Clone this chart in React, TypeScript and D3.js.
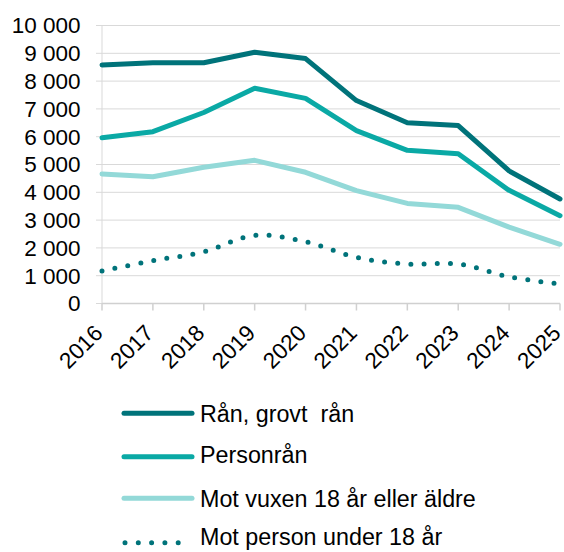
import React from 'react'
import * as d3 from 'd3'

const years = ['2016', '2017', '2018', '2019', '2020', '2021', '2022', '2023', '2024', '2025']
const ranGrovtRan = [8580, 8660, 8660, 9040, 8810, 7300, 6500, 6400, 4770, 3760]
const personran = [5960, 6180, 6870, 7740, 7380, 6220, 5510, 5390, 4070, 3160]
const motVuxen = [4660, 4560, 4900, 5150, 4720, 4060, 3600, 3460, 2750, 2130]
const motUnder18 = [1170, 1540, 1860, 2450, 2220, 1660, 1420, 1420, 960, 700]
const yTicks = [0, 1000, 2000, 3000, 4000, 5000, 6000, 7000, 8000, 9000, 10000]

const series = [
  { name: 'Rån, grovt  rån', values: ranGrovtRan, color: '#00737a', dotted: false },
  { name: 'Personrån', values: personran, color: '#0aa9a5', dotted: false },
  { name: 'Mot vuxen 18 år eller äldre', values: motVuxen, color: '#93d9d8', dotted: false },
  { name: 'Mot person under 18 år', values: motUnder18, color: '#00737a', dotted: true }
]

const W = 564
const H = 552
const left = 102
const right = 560
const top = 25.5
const bottom = 303.5
const font = 'Arial, "Liberation Sans", sans-serif'

// legend rows: symbol line y and text baseline
const legendLineY = [413.3, 456.7, 498.3, 542.7]
const legendTextY = [421.7, 463.3, 506.7, 544.5]

export default function App() {
  const x = d3.scalePoint<string>().domain(years).range([left, right])
  const y = d3.scaleLinear().domain([0, 10000]).range([bottom, top])
  const fmt = (v: number) => d3.format(',')(v).replace(/,/g, ' ')

  const straight = d3
    .line<number>()
    .x((_, i) => x(years[i]) as number)
    .y(d => y(d))
  const smooth = d3
    .line<number>()
    .x((_, i) => x(years[i]) as number)
    .y(d => y(d))
    .curve(d3.curveCatmullRom.alpha(0.5))

  return (
    <svg
      width={W}
      height={H}
      style={{ position: 'absolute', left: 0, top: 0, fontFamily: font }}
    >
      {yTicks.map(t => (
        <g key={t}>
          <line x1={left - 6} x2={right} y1={y(t)} y2={y(t)} stroke="#d9d9d9" strokeWidth={1} />
          <text x={80.5} y={y(t) + 7.8} textAnchor="end" fontSize={22.5} fill="#000">
            {fmt(t)}
          </text>
        </g>
      ))}
      <line x1={left} x2={left} y1={top} y2={bottom} stroke="#d9d9d9" strokeWidth={1} />
      <line x1={left} x2={right} y1={bottom} y2={bottom} stroke="#d0d0d0" strokeWidth={1.5} />
      {years.map(yr => (
        <g key={yr}>
          <line
            x1={x(yr)}
            x2={x(yr)}
            y1={bottom}
            y2={bottom + 7}
            stroke="#d0d0d0"
            strokeWidth={1.5}
          />
          <text
            transform={`translate(${(x(yr) as number) + 2},${bottom + 31}) rotate(-45)`}
            textAnchor="end"
            fontSize={22.5}
            fill="#000"
          >
            {yr}
          </text>
        </g>
      ))}
      {series.map(s => (
        <path
          key={s.name}
          d={(s.dotted ? smooth(s.values) : straight(s.values)) || ''}
          fill="none"
          stroke={s.color}
          strokeWidth={5}
          strokeLinecap="round"
          strokeLinejoin="round"
          strokeDasharray={s.dotted ? '0 13.2' : undefined}
        />
      ))}
      {series.map((s, i) => (
        <g key={s.name}>
          <line
            x1={s.dotted ? 125 : 124}
            x2={s.dotted ? 180 : 192}
            y1={legendLineY[i]}
            y2={legendLineY[i]}
            stroke={s.color}
            strokeWidth={5}
            strokeLinecap="round"
            strokeDasharray={s.dotted ? '0 13.3' : undefined}
          />
          <text
            x={200}
            y={legendTextY[i]}
            fontSize={23.3}
            fill="#000"
            style={{ whiteSpace: 'pre' }}
          >
            {s.name}
          </text>
        </g>
      ))}
    </svg>
  )
}
